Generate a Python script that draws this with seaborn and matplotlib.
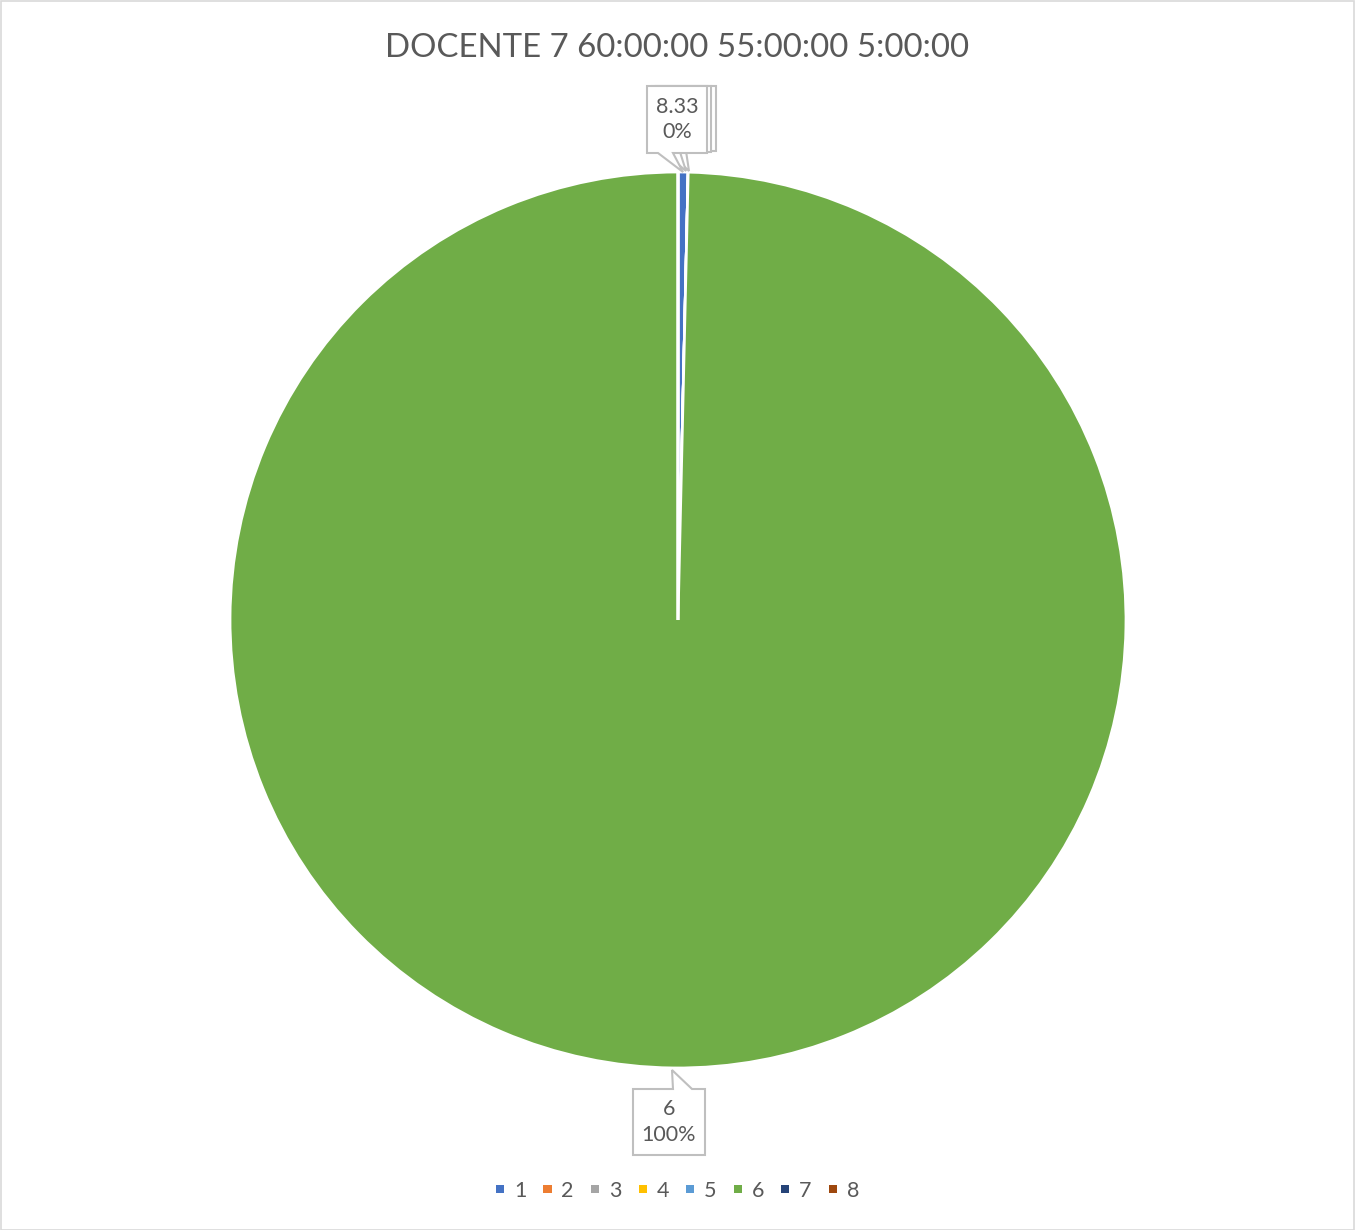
import matplotlib
matplotlib.use("Agg")
import matplotlib.pyplot as plt
from matplotlib.patches import Polygon, Rectangle, Patch
import numpy as np
import seaborn as sns
import pandas as pd

# Hours per category for the teacher
categories = ["1", "2", "3", "4", "5", "6", "7", "8"]
hours = [0.2, 0, 0, 0, 0, 55.0, 0, 0]
label_names = ["8.33", "2", "3", "4", "5", "6", "7", "8"]
title = "DOCENTE 7 60:00:00 55:00:00 5:00:00"
palette = ["#4472C4", "#ED7D31", "#A5A5A5", "#FFC000",
           "#5B9BD5", "#70AD47", "#264478", "#9E480E"]

df = pd.DataFrame({"categoria": categories, "horas": hours, "etiqueta": label_names})

sns.set_theme(style="white")
plt.rcParams["font.family"] = ["Lato", "DejaVu Sans"]

W, H = 1355, 1230
fig = plt.figure(figsize=(W / 100, H / 100), dpi=100)
ax = fig.add_axes([0, 0, 1, 1])
ax.set_xlim(0, W)
ax.set_ylim(0, H)
ax.axis("off")

cx, cy, R = 678, H - 620, 448
wedges, _ = ax.pie(df["horas"], colors=palette, startangle=90, counterclock=False,
                   radius=R, center=(cx, cy),
                   wedgeprops=dict(edgecolor="white", linewidth=2.0))
ax.set_xlim(0, W)
ax.set_ylim(0, H)
ax.set_aspect("equal")

TXT = "#595959"
BOX = "#BFBFBF"


def callout(x0, x1, ytop, ybot, bx0, bx1, tip, side, text=None, z=5):
    """Box with a pointer; y given in pixels from the top."""
    yt, yb = H - ytop, H - ybot
    tx, ty = tip[0], H - tip[1]
    if side == "top":
        pts = [(x0, yt), (bx0, yt), (tx, ty), (bx1, yt), (x1, yt), (x1, yb), (x0, yb)]
    else:
        pts = [(x0, yt), (x1, yt), (x1, yb), (bx1, yb), (tx, ty), (bx0, yb), (x0, yb)]
    ax.add_patch(Polygon(pts, closed=True, facecolor="white", edgecolor=BOX,
                         linewidth=1.5, zorder=z))
    if text:
        ax.text((x0 + x1) / 2, (yt + yb) / 2, text, ha="center", va="center",
                fontsize=15.5, color=TXT, linespacing=1.35, zorder=z + 1)


total = df["horas"].sum()
pct = df["horas"] / total * 100

# Labels of the tiny slices stacked at the top of the pie
callout(656, 716, 86, 151, 668, 686, (689, 171), "bottom", None, z=3)
callout(652, 711, 86, 152, 664, 680, (686, 171), "bottom", None, z=4)
i = 0
callout(647, 707, 86, 153, 658, 673, (683, 172), "bottom",
        f"{df['etiqueta'][i]}\n{pct[i]:.0f}%", z=5)

# Label of the large slice below the pie
j = 5
callout(633, 705, 1089, 1155, 673, 692, (672, 1070), "top",
        f"{df['etiqueta'][j]}\n{pct[j]:.0f}%", z=5)

fig.text(0.5, 1 - 48 / H, title, ha="center", va="center",
         fontsize=23.8, color=TXT)

handles = [Patch(facecolor=c, edgecolor="none") for c in palette]
leg = fig.legend(handles, categories, loc="center", bbox_to_anchor=(0.5, 1 - 1191 / H),
                 ncol=8, frameon=False, fontsize=15.5, handlelength=0.38,
                 handleheight=0.2, handletextpad=0.45, columnspacing=0.8)
for t in leg.get_texts():
    t.set_color(TXT)

fig.add_artist(Rectangle((0.5 / W, 0.5 / H), 1 - 1.5 / W, 1 - 1.5 / H,
                         transform=fig.transFigure, fill=False,
                         edgecolor="#D9D9D9", linewidth=1.2))

fig.savefig("out.png", dpi=100)
